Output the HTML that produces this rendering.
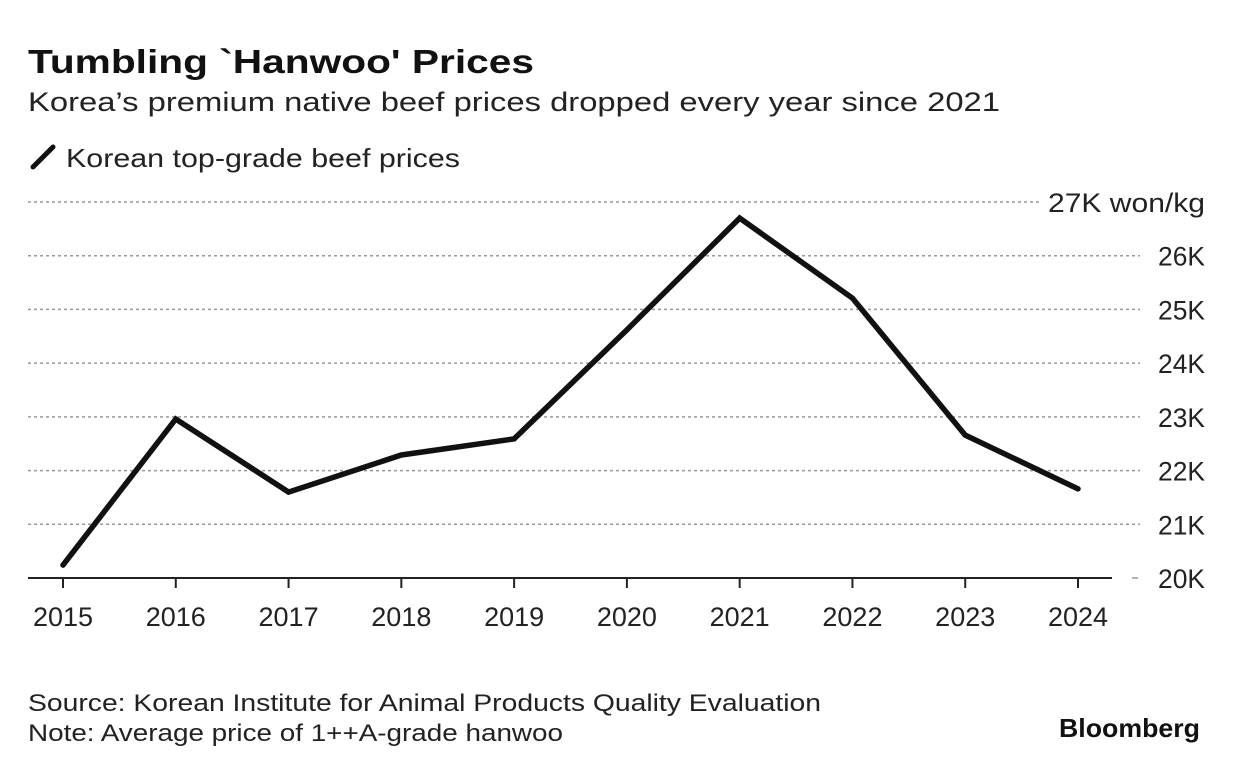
<!DOCTYPE html>
<html><head><meta charset="utf-8"><style>
html,body{margin:0;padding:0;background:#fff;}
svg{display:block;font-family:"Liberation Sans",sans-serif;}
</style></head><body>
<svg id="chart" width="1240" height="772" viewBox="0 0 1240 772">
<text x="28" y="73" font-size="33" font-weight="bold" fill="#111" textLength="506" lengthAdjust="spacingAndGlyphs">Tumbling `Hanwoo' Prices</text>
<text x="28" y="111" font-size="27" fill="#222" textLength="972" lengthAdjust="spacingAndGlyphs">Korea’s premium native beef prices dropped every year since 2021</text>
<g>
<line x1="33" y1="167" x2="53" y2="147" stroke="#111" stroke-width="5" stroke-linecap="round"/>
<text x="66" y="167" font-size="26" fill="#222" textLength="394" lengthAdjust="spacingAndGlyphs">Korean top-grade beef prices</text>
</g>
<g id="grid"></g><g id="axes"></g><g id="series"></g>
<text x="28" y="711" font-size="24" fill="#222" textLength="793" lengthAdjust="spacingAndGlyphs">Source: Korean Institute for Animal Products Quality Evaluation</text>
<text x="28" y="741" font-size="24" fill="#222" textLength="535" lengthAdjust="spacingAndGlyphs">Note: Average price of 1++A-grade hanwoo</text>
<text x="1200" y="737" font-size="26" font-weight="bold" fill="#111" text-anchor="end" textLength="141" lengthAdjust="spacingAndGlyphs">Bloomberg</text>
</svg>
<script>
const years=[2015,2016,2017,2018,2019,2020,2021,2022,2023,2024];
const prices=[20.24,22.96,21.6,22.29,22.59,24.62,26.7,25.21,22.66,21.66];
const yTicks=[20,21,22,23,24,25,26,27];
const yTickLabels=["20K","21K","22K","23K","24K","25K","26K","27K won/kg"];
const NS="http://www.w3.org/2000/svg";
function X(yr){return 63+(yr-2015)*(1078-63)/9;}
function Y(v){return 578-(v-20)*(578-202)/7;}
function mk(t,a,p){const e=document.createElementNS(NS,t);for(const k in a)e.setAttribute(k,a[k]);p.appendChild(e);return e;}
const grid=document.getElementById('grid'),axes=document.getElementById('axes'),series=document.getElementById('series');
yTicks.forEach((v,i)=>{
  const y=Y(v);
  const last=i===yTicks.length-1;
  if(v>20){
    const g=mk('line',{x1:28,x2:last?1040:1140,y1:y,y2:y,stroke:'#999','stroke-width':1.5,'stroke-dasharray':'3,3'},grid);
    
    
  } else {
    const d=mk('line',{x1:1132,x2:1138,y1:y,y2:y,stroke:'#999','stroke-width':1.5},grid);
    
    
  }
  const attrs={x:last?1048:1158,y:y+10,'font-size':27,fill:'#222'};
  if(last){attrs.textLength=157;attrs.lengthAdjust='spacingAndGlyphs';}
  else{attrs.textLength=47;attrs.lengthAdjust='spacingAndGlyphs';}
  const t=mk('text',attrs,axes);
  t.textContent=yTickLabels[i];
  
  
});
const base=mk('line',{x1:28,x2:1112,y1:Y(20),y2:Y(20),stroke:'#222','stroke-width':2},axes);


years.forEach(yr=>{
  const x=X(yr);
  const tk=mk('line',{x1:x,x2:x,y1:Y(20),y2:Y(20)+10,stroke:'#222','stroke-width':2},axes);
  
  
  const t=mk('text',{x:x,y:626,'font-size':27,fill:'#222','text-anchor':'middle'},axes);
  t.textContent=yr;
  
  
});
const pts=years.map((yr,i)=>X(yr)+','+Y(prices[i])).join(' ');
const line=mk('polyline',{points:pts,fill:'none',stroke:'#111','stroke-width':5.5,'stroke-linejoin':'miter','stroke-linecap':'round'},series);


</script>
</body></html>
